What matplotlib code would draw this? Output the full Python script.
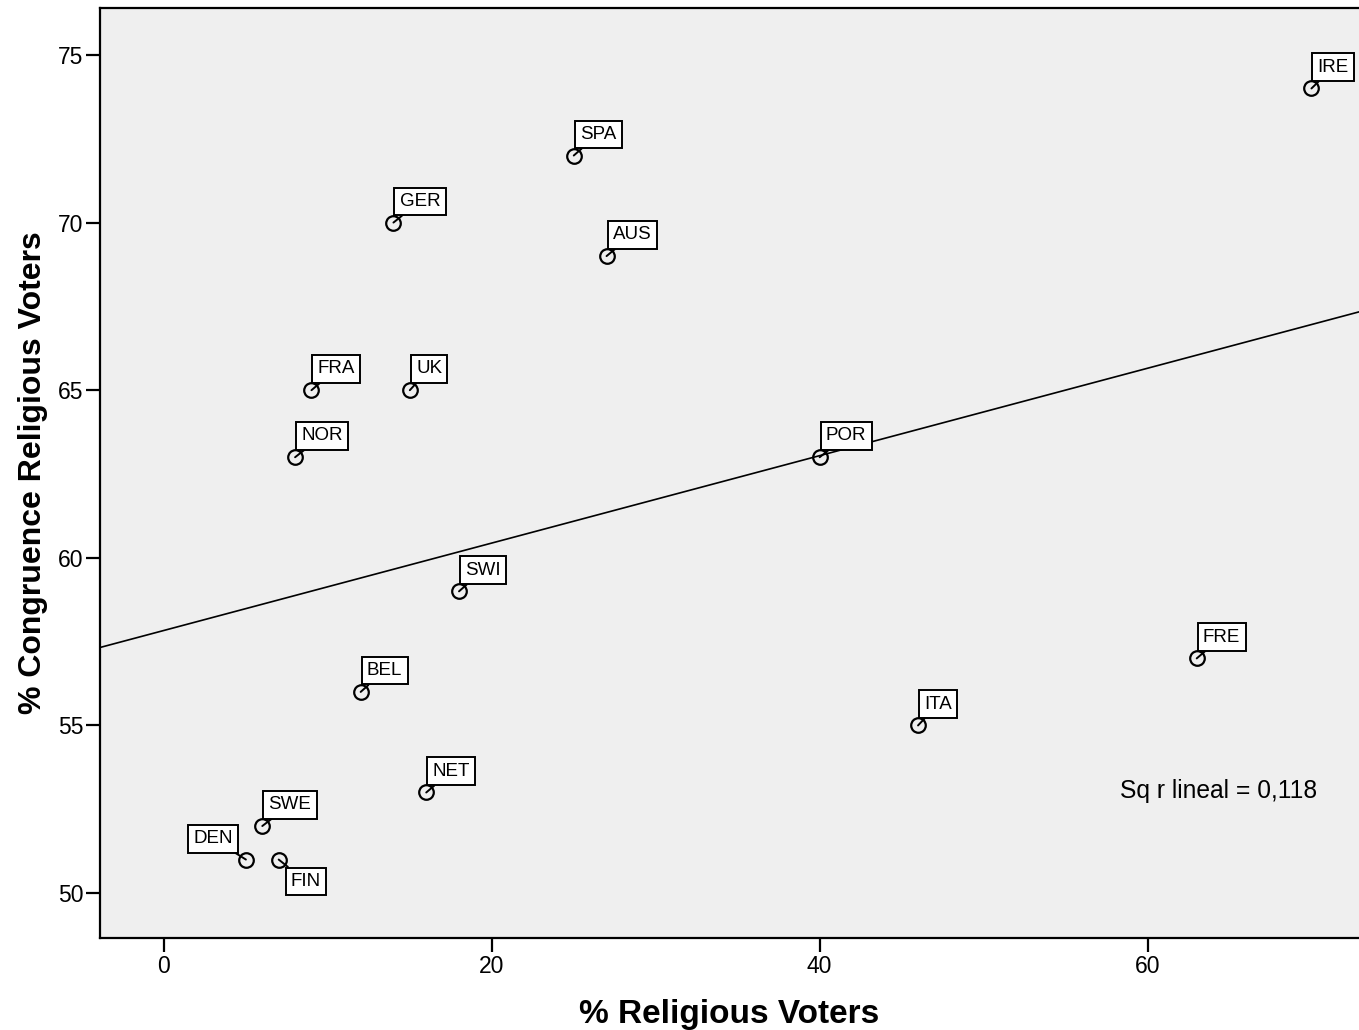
import numpy as np
import matplotlib
matplotlib.use("Agg")
import matplotlib.pyplot as plt

plt.rcParams['font.family'] = ['Liberation Sans', 'DejaVu Sans']

countries = ["IRE", "SPA", "GER", "AUS", "FRA", "UK", "NOR", "POR",
             "SWI", "FRE", "BEL", "ITA", "NET", "SWE", "DEN", "FIN"]
religious = [70, 25, 14, 27, 9, 15, 8, 40, 18, 63, 12, 46, 16, 6, 5, 7]
congruence = [74, 72, 70, 69, 65, 65, 63, 63, 59, 57, 56, 55, 53, 52, 51, 51]
xticks = [0, 20, 40, 60]
yticks = [50, 55, 60, 65, 70, 75]

fig = plt.figure(figsize=(13.59, 10.30), dpi=100)
ax = fig.add_axes([100/1359, 92/1030, 1 - 100/1359, 930/1030])
ax.set_facecolor('#efefef')
ax.set_xlim(-3.9, 72.9)
ax.set_ylim(48.66, 76.4)

# regression line
slope, intercept = np.polyfit(religious, congruence, 1)
xl = np.array(ax.get_xlim())
ax.plot(xl, intercept + slope * xl, color='black', lw=1.2, zorder=2)
r = np.corrcoef(religious, congruence)[0, 1]

ax.plot(religious, congruence, linestyle='none', marker='o', markersize=10.5,
        markerfacecolor='none', markeredgecolor='black', markeredgewidth=1.6, zorder=3)

pad = 0.28
fs = 13.5
padpx = pad * fs * 100 / 72
for name, x, y in zip(countries, religious, congruence):
    if name == "DEN":
        off, ha, va = (-8 - padpx, 7 + padpx), 'right', 'bottom'
    elif name == "FIN":
        off, ha, va = (7 + padpx, -8 - padpx), 'left', 'top'
    else:
        off, ha, va = (1 + padpx, 7.5 + padpx), 'left', 'bottom'
    ax.annotate(name, xy=(x, y), xytext=off, textcoords='offset pixels',
                ha=ha, va=va, fontsize=fs, zorder=4,
                bbox=dict(boxstyle=f'square,pad={pad}', fc='white', ec='black', lw=1.4),
                arrowprops=dict(arrowstyle='-', lw=1.4, color='black', shrinkA=0, shrinkB=0))

ax.text(58.35, 53.03, "Sq r lineal = " + f"{r**2:.3f}".replace('.', ','),
        fontsize=17.7, ha='left', va='center')

ax.set_xticks(xticks)
ax.set_yticks(yticks)
ax.tick_params(axis='both', direction='out', length=10, width=1.6, labelsize=16.5, pad=2)
for s in ['left', 'bottom', 'top']:
    ax.spines[s].set_linewidth(1.6)
ax.spines['right'].set_visible(False)

ax.set_xlabel("% Religious Voters", fontsize=24, fontweight='bold', labelpad=15)
ax.set_ylabel("% Congruence Religious Voters", fontsize=23, fontweight='bold', labelpad=7)

fig.savefig("out.png", dpi=100)
